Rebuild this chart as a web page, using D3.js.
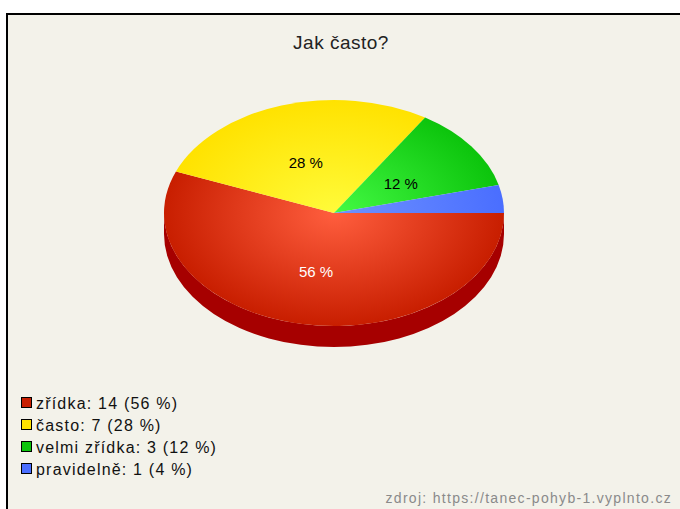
<!DOCTYPE html>
<html>
<head>
<meta charset="utf-8">
<script src="https://cdn.jsdelivr.net/npm/d3@7/dist/d3.min.js"></script>
<style>
  html, body { margin: 0; padding: 0; background: #fff; }
  svg { display: block; }
</style>
</head>
<body>
<svg id="chart" width="680" height="509"></svg>
<script>
// data
const categories = ['zřídka', 'často', 'velmi zřídka', 'pravidelně'];
const counts = [14, 7, 3, 1];
const percents = [56, 28, 12, 4];
const titleText = 'Jak často?';
const sourceText = 'zdroj: https://tanec-pohyb-1.vyplnto.cz';

const cs = {
  pallette: {
    bg: '#f3f2ea',
    top: ['#c81e00', '#ffe200', '#0cc40c', '#4a6eff'],
    light: ['#ff5e3e', '#fffb3a', '#44fa44', '#6e92ff'],
    side: ['#a60000', '#c8b000', '#0a9a0a', '#2a4ad0'],
    label: ['#ffffff', '#000000', '#000000', '#000000'],
  },
  pie: { cx: 334, cy: 213, rx: 170, ry: 113, depth: 21, labelAt: 0.5 },
  legend: { x: 21, y: 397, step: 22, box: 11 },
  font: '"Liberation Sans", Arial, sans-serif',
};

const svg = d3.select('#chart');
const defs = svg.append('defs');

// frame: white margin, black rule top/left, beige panel
svg.append('rect').attr('x', 7).attr('y', 14).attr('width', 700).attr('height', 520)
  .attr('fill', cs.pallette.bg).attr('stroke', '#000').attr('stroke-width', 2);

svg.append('text')
  .attr('x', 341).attr('y', 49)
  .attr('text-anchor', 'middle')
  .attr('font-family', cs.font).attr('font-size', 19)
  .attr('letter-spacing', 0.5)
  .attr('fill', '#222')
  .text(titleText);

const color = d3.scaleOrdinal().domain(categories).range(cs.pallette.top);
const lightColor = d3.scaleOrdinal().domain(categories).range(cs.pallette.light);
const sideColor = d3.scaleOrdinal().domain(categories).range(cs.pallette.side);
const labelColor = d3.scaleOrdinal().domain(categories).range(cs.pallette.label);

const rows = categories.map((c, i) => ({ name: c, count: counts[i], pct: percents[i] }));

const pie = d3.pie().sort(null).value(d => d.count)
  .startAngle(Math.PI / 2).endAngle(Math.PI / 2 + 2 * Math.PI);
const arcs = pie(rows);

const { cx, cy, rx, ry, depth } = cs.pie;
const pt = (a, dy = 0) => [cx + rx * Math.sin(a), cy - ry * Math.cos(a) + dy];

// side wall (only the front half, angles pi/2 .. 3pi/2 are visible)
arcs.forEach((d) => {
  const a0 = Math.max(d.startAngle, Math.PI / 2);
  const a1 = Math.min(d.endAngle, 3 * Math.PI / 2);
  if (a1 <= a0) return;
  const p0 = pt(a0); const p1 = pt(a1);
  const q0 = pt(a0, depth); const q1 = pt(a1, depth);
  const large = (a1 - a0) > Math.PI ? 1 : 0;
  const path = `M${p0}A${rx},${ry} 0 ${large} 1 ${p1}L${q1}A${rx},${ry} 0 ${large} 0 ${q0}Z`;
  svg.append('path').attr('d', path).attr('fill', sideColor(d.data.name));
});

// top face: circular arcs squashed into an ellipse
arcs.forEach((d, i) => {
  const g = defs.append('radialGradient')
    .attr('id', `grad${i}`)
    .attr('gradientUnits', 'userSpaceOnUse')
    .attr('cx', 0).attr('cy', 0).attr('r', rx);
  g.append('stop').attr('offset', '0%').attr('stop-color', lightColor(d.data.name));
  g.append('stop').attr('offset', '100%').attr('stop-color', color(d.data.name));
});

const face = svg.append('g')
  .attr('transform', `translate(${cx},${cy}) scale(1,${ry / rx})`);
const arc = d3.arc().innerRadius(0).outerRadius(rx);
face.selectAll('path').data(arcs).enter()
  .append('path')
  .attr('d', arc)
  .attr('fill', (d, i) => `url(#grad${i})`);

// slice labels
svg.selectAll('text.lbl').data(arcs.filter(d => d.data.pct >= 10)).enter()
  .append('text')
  .attr('class', 'lbl')
  .attr('x', (d) => {
    const a = (d.startAngle + d.endAngle) / 2;
    return cx - 2 + rx * cs.pie.labelAt * Math.sin(a);
  })
  .attr('y', (d) => {
    const a = (d.startAngle + d.endAngle) / 2;
    return cy - ry * cs.pie.labelAt * Math.cos(a) + 9;
  })
  .attr('text-anchor', 'middle')
  .attr('font-family', cs.font).attr('font-size', 15)
  .attr('fill', d => labelColor(d.data.name))
  .text(d => `${d.data.pct} %`);

// legend
const legend = svg.append('g');
const item = legend.selectAll('g').data(rows).enter().append('g')
  .attr('transform', (d, i) => `translate(${cs.legend.x},${cs.legend.y + i * cs.legend.step})`);
item.append('rect')
  .attr('x', 0.5).attr('y', 0.5)
  .attr('width', cs.legend.box - 1).attr('height', cs.legend.box - 1)
  .attr('fill', d => color(d.name)).attr('stroke', '#000');
item.append('text')
  .attr('x', 15).attr('y', 12)
  .attr('font-family', cs.font).attr('font-size', 16)
  .attr('letter-spacing', 1.2)
  .attr('fill', '#111')
  .text(d => `${d.name}: ${d.count} (${d.pct} %)`);

svg.append('text')
  .attr('x', 672).attr('y', 503)
  .attr('text-anchor', 'end')
  .attr('font-family', cs.font).attr('font-size', 14)
  .attr('letter-spacing', 1.3)
  .attr('fill', '#8a8a8a')
  .text(sourceText);
</script>
</body>
</html>
